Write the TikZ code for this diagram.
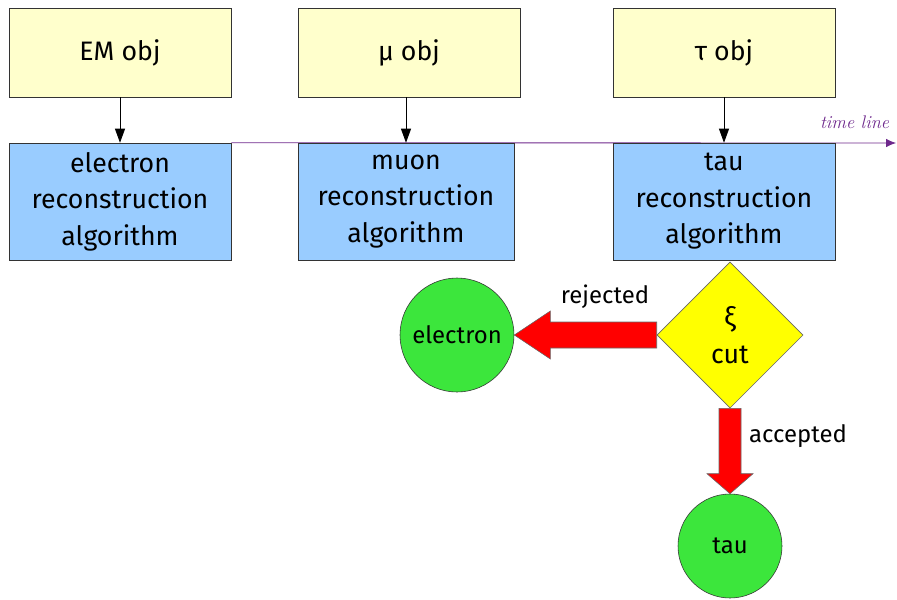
\documentclass[tikz,border=0pt]{standalone}
\usepackage{fontspec}
\setmainfont{Fira Sans}
\usepackage{xcolor}
\usetikzlibrary{arrows.meta, shapes.geometric, calc, backgrounds}

\definecolor{objyellow}{RGB}{255,255,204}
\definecolor{recoblue}{RGB}{153,204,255}
\definecolor{outgreen}{RGB}{60,230,60}
\definecolor{cutyellow}{RGB}{255,255,0}
\definecolor{timepurple}{RGB}{110,40,140}

\begin{document}
\begin{tikzpicture}[>={Triangle[length=0.35cm, width=0.25cm]}, font=\fontsize{19}{26}\selectfont,
    objbox/.style={draw=black!80, fill=objyellow, minimum width=5.55cm, minimum height=2.225cm},
    recobox/.style={draw=black!80, fill=recoblue, minimum height=2.925cm, align=center, inner sep=0pt},
    outcircle/.style={circle, draw=black!80, fill=outgreen, inner sep=0pt, font=\fontsize{17}{20}\selectfont},
    redarrow/.style={draw=black!60, fill=red, line join=miter},
    lbl/.style={font=\fontsize{17}{20}\selectfont}]

    \useasboundingbox (0,0) rectangle (22.425,-14.975);

    % --- 1. OBJEKTE ---
    \node[objbox] (emobj)  at (3.0, -1.3125)   {EM obj};
    \node[objbox] (muobj)  at (10.225, -1.3125) {μ obj};
    \node[objbox] (tauobj) at (18.1, -1.3125)  {τ obj};

    % --- 2. REKONSTRUKTION ---
    \node[recobox, minimum width=5.55cm] (elreco)  at (3.0, -5.0375)  {electron\\reconstruction\\algorithm};
    \node[recobox, minimum width=5.4cm]  (mureco)  at (10.15, -5.0375) {muon\\reconstruction\\algorithm};
    \node[recobox, minimum width=5.55cm] (taureco) at (18.1, -5.0375)  {tau\\reconstruction\\algorithm};

    \draw[->, semithick] (emobj) -- (elreco);
    \draw[->, semithick] (muobj.south -| mureco.north) -- (mureco.north);
    \draw[->, semithick] (tauobj) -- (taureco);

    % Zeitachse (hinter den Kaesten)
    \coordinate (tlend) at (22.4, -3.575);
    \begin{scope}[on background layer]
        \draw[timepurple, semithick, -{Latex[length=7pt, width=6pt]}] (elreco.north east) -- (tlend);
    \end{scope}
    \node[timepurple, font=\fontsize{13}{15}\selectfont\itshape, anchor=south east] (tllabel) at (22.35, -3.35) {\fontspec{Latin Modern Roman}time line};

    % --- 3. SCHNITT ---
    \node[diamond, draw=black!60, fill=cutyellow, minimum width=3.65cm, minimum height=3.65cm,
          inner sep=0pt, align=center] (xicut) at (18.25, -8.375) {ξ\\cut};

    \node[outcircle, minimum size=2.85cm] (elout)  at (11.425, -8.375) {electron};
    \node[outcircle, minimum size=2.6cm]  (tauout) at (18.25, -13.65)  {tau};

    % Blockpfeile
    \draw[redarrow] ($(xicut.west)+(0,0.325)$) -- ($(elout.east)+(0.9,0.325)$) -- ($(elout.east)+(0.9,0.6)$)
        -- (elout.east) -- ($(elout.east)+(0.9,-0.6)$) -- ($(elout.east)+(0.9,-0.325)$)
        -- ($(xicut.west)+(0,-0.325)$) -- cycle;
    \draw[redarrow] ($(xicut.south)+(-0.275,0)$) -- ($(tauout.north)+(-0.275,0.5)$) -- ($(tauout.north)+(-0.575,0.5)$)
        -- (tauout.north) -- ($(tauout.north)+(0.575,0.5)$) -- ($(tauout.north)+(0.275,0.5)$)
        -- ($(xicut.south)+(0.275,0)$) -- cycle;

    \node[lbl] (rejlbl) at (15.125, -7.425) {rejected};
    \node[lbl] (acclbl) at (19.95, -10.9)   {accepted};

\end{tikzpicture}
\end{document}
